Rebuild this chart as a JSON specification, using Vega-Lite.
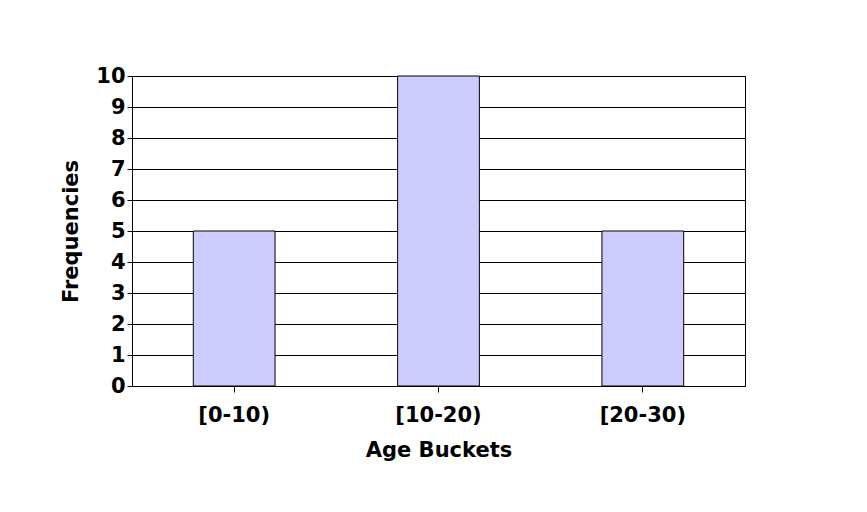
{
  "$schema": "https://vega.github.io/schema/vega-lite/v6.json",
  "width": 867,
  "height": 512,
  "autosize": {"type": "fit", "contains": "padding"},
  "padding": {"left": 60, "top": 65, "right": 122, "bottom": 52},
  "background": "white",
  "data": {
    "values": [
      {"bucket": "[0-10)", "freq": 5},
      {"bucket": "[10-20)", "freq": 10},
      {"bucket": "[20-30)", "freq": 5}
    ]
  },
  "mark": {"type": "bar", "color": "#CCCCFF", "stroke": "black", "strokeWidth": 1},
  "encoding": {
    "x": {
      "field": "bucket",
      "type": "nominal",
      "title": "Age Buckets",
      "sort": null,
      "scale": {"paddingInner": 0.6, "paddingOuter": 0.3},
      "axis": {"labelAngle": 0, "labelPadding": 12, "titlePadding": 14, "ticks": true, "tickSize": 6, "domainColor": "black", "tickColor": "black"}
    },
    "y": {
      "field": "freq",
      "type": "quantitative",
      "title": "Frequencies",
      "scale": {"domain": [0, 10]},
      "axis": {"values": [0,1,2,3,4,5,6,7,8,9,10], "labelOverlap": false, "labelBound": false, "grid": true, "gridColor": "black", "gridWidth": 1, "domainColor": "black", "tickColor": "black", "titlePadding": 14}
    }
  },
  "config": {
    "view": {"stroke": "black"},
    "axis": {
      "labelFont": "DejaVu Sans",
      "labelFontSize": 21,
      "labelFontWeight": "bold",
      "labelColor": "black",
      "titleFont": "DejaVu Sans",
      "titleFontSize": 21,
      "titleFontWeight": "bold",
      "titleColor": "black"
    }
  }
}
